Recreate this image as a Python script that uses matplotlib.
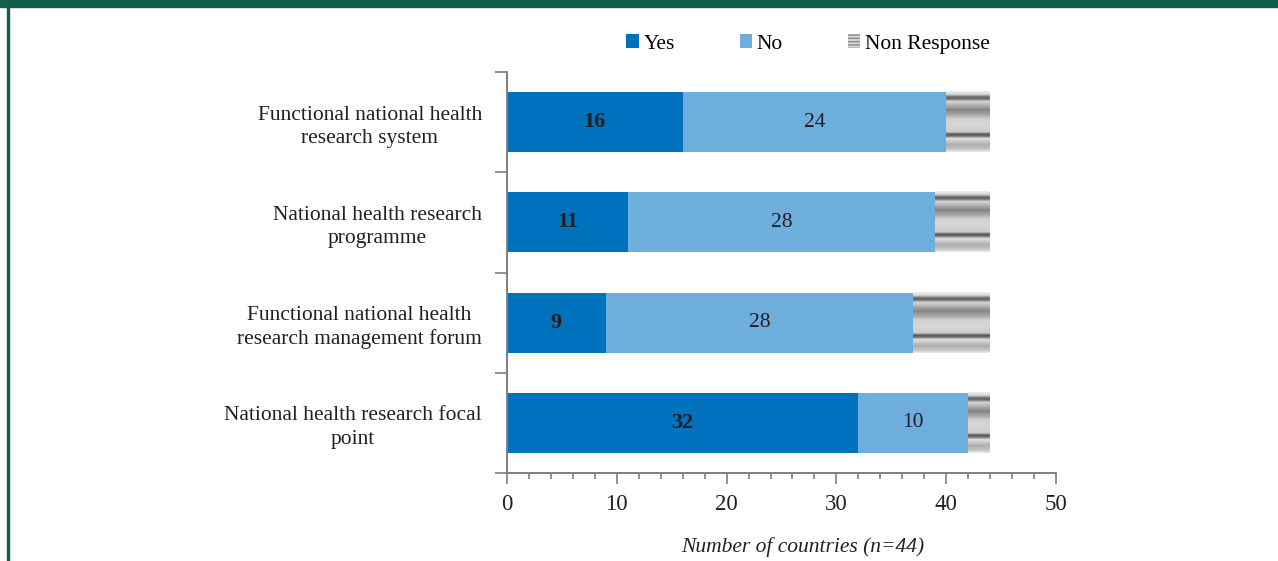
import numpy as np
import matplotlib
matplotlib.use('Agg')
import matplotlib.pyplot as plt
from matplotlib.patches import Patch, Rectangle

categories = ['Functional national health\nresearch system',
              'National health research\nprogramme',
              'Functional national health\nresearch management forum',
              'National health research focal\npoint']
yes = [16, 11, 9, 32]
no = [24, 28, 28, 10]
total = 44
non_response = [total - a - b for a, b in zip(yes, no)]

yes_color = '#0071BC'
no_color = '#6DAEDD'
axis_color = '#7f7f7f'
green = '#135E4B'
fs = 15.5

plt.rcParams['font.family'] = ['Liberation Serif', 'DejaVu Serif']

fig = plt.figure(figsize=(12.78, 5.61), dpi=100)
ax = fig.add_axes([507 / 1278, 1 - 473 / 561, 549 / 1278, 401 / 561])

y = np.arange(len(categories))
h = 0.6
ax.barh(y, yes, height=h, color=yes_color, zorder=2)
ax.barh(y, no, left=yes, height=h, color=no_color, zorder=2)

# grey banded fill for non response segments
stops = [0.0, 0.05, 0.10, 0.13, 0.17, 0.23, 0.31, 0.39, 0.46, 0.56, 0.67, 0.71, 0.74, 0.78, 0.88, 0.96, 1.0]
greys = [0.93, 0.85, 0.38, 0.45, 0.84, 0.70, 0.52, 0.66, 0.82, 0.84, 0.80, 0.33, 0.45, 0.88, 0.68, 0.78, 0.93]
profile = np.interp(np.linspace(0, 1, 200), stops, greys)[:, None]
for yi, a, b, c in zip(y, yes, no, non_response):
    left = a + b
    ax.imshow(profile, cmap='gray', vmin=0, vmax=1, aspect='auto',
              extent=(left, left + c, yi + h / 2, yi - h / 2), origin='upper', zorder=2)

for yi, a, b in zip(y, yes, no):
    ax.text(a / 2, yi, str(a), ha='center', va='center', fontsize=fs + 0.5,
            fontweight='bold', color='#231f20', zorder=3)
    ax.text(a + b / 2, yi, str(b), ha='center', va='center', fontsize=fs,
            color='#231f20', zorder=3)

ax.set_xlim(0, 50)
ax.set_ylim(3.5, -0.5)

ax.set_xticks(np.arange(0, 51, 10))
ax.set_xticks(np.arange(0, 51, 2), minor=True)
ax.tick_params(axis='x', which='major', length=8, width=1.2, color=axis_color,
               labelsize=16.5, pad=7, direction='out', labelcolor='#231f20')
ax.tick_params(axis='x', which='minor', length=4, width=1.2, color=axis_color, direction='out')

ax.set_yticks(y)
ax.set_yticklabels(categories)
ax.set_yticks(np.arange(-0.5, 3.6, 1), minor=True)
ax.tick_params(axis='y', which='major', length=0, labelsize=fs, pad=18, labelcolor='#231f20')
ax.tick_params(axis='y', which='minor', length=9, width=1.2, color=axis_color, direction='out')
for lab in ax.get_yticklabels():
    lab.set_multialignment('center')
    lab.set_linespacing(1.3)

for side in ['top', 'right']:
    ax.spines[side].set_visible(False)
for side in ['left', 'bottom']:
    ax.spines[side].set_color(axis_color)
    ax.spines[side].set_linewidth(1.4)

ax.set_xlabel('Number of countries (n=44)', fontsize=fs, style='italic', color='#231f20')
ax.xaxis.set_label_coords((803 - 507) / 549, -0.16)

handles = [Patch(facecolor=yes_color, label='Yes'),
           Patch(facecolor=no_color, label='No'),
           Patch(facecolor='#d6d6d6', edgecolor='#8a8a8a', hatch='-----', linewidth=0,
                 label='Non Response')]
fig.legend(handles=handles, loc='center', bbox_to_anchor=(808 / 1278, 1 - 44 / 561),
           ncol=3, frameon=False, fontsize=fs, handlelength=0.6, handleheight=0.6,
           handletextpad=0.2, columnspacing=3.0)

# dark green frame at top and left edge
fig.patches.append(Rectangle((0, 1 - 7 / 561), 1, 7 / 561, transform=fig.transFigure,
                             color=green, zorder=0))
fig.patches.append(Rectangle((7 / 1278, 0), 2 / 1278, 1, transform=fig.transFigure,
                             color=green, zorder=0))

fig.savefig('out.png', dpi=100)
